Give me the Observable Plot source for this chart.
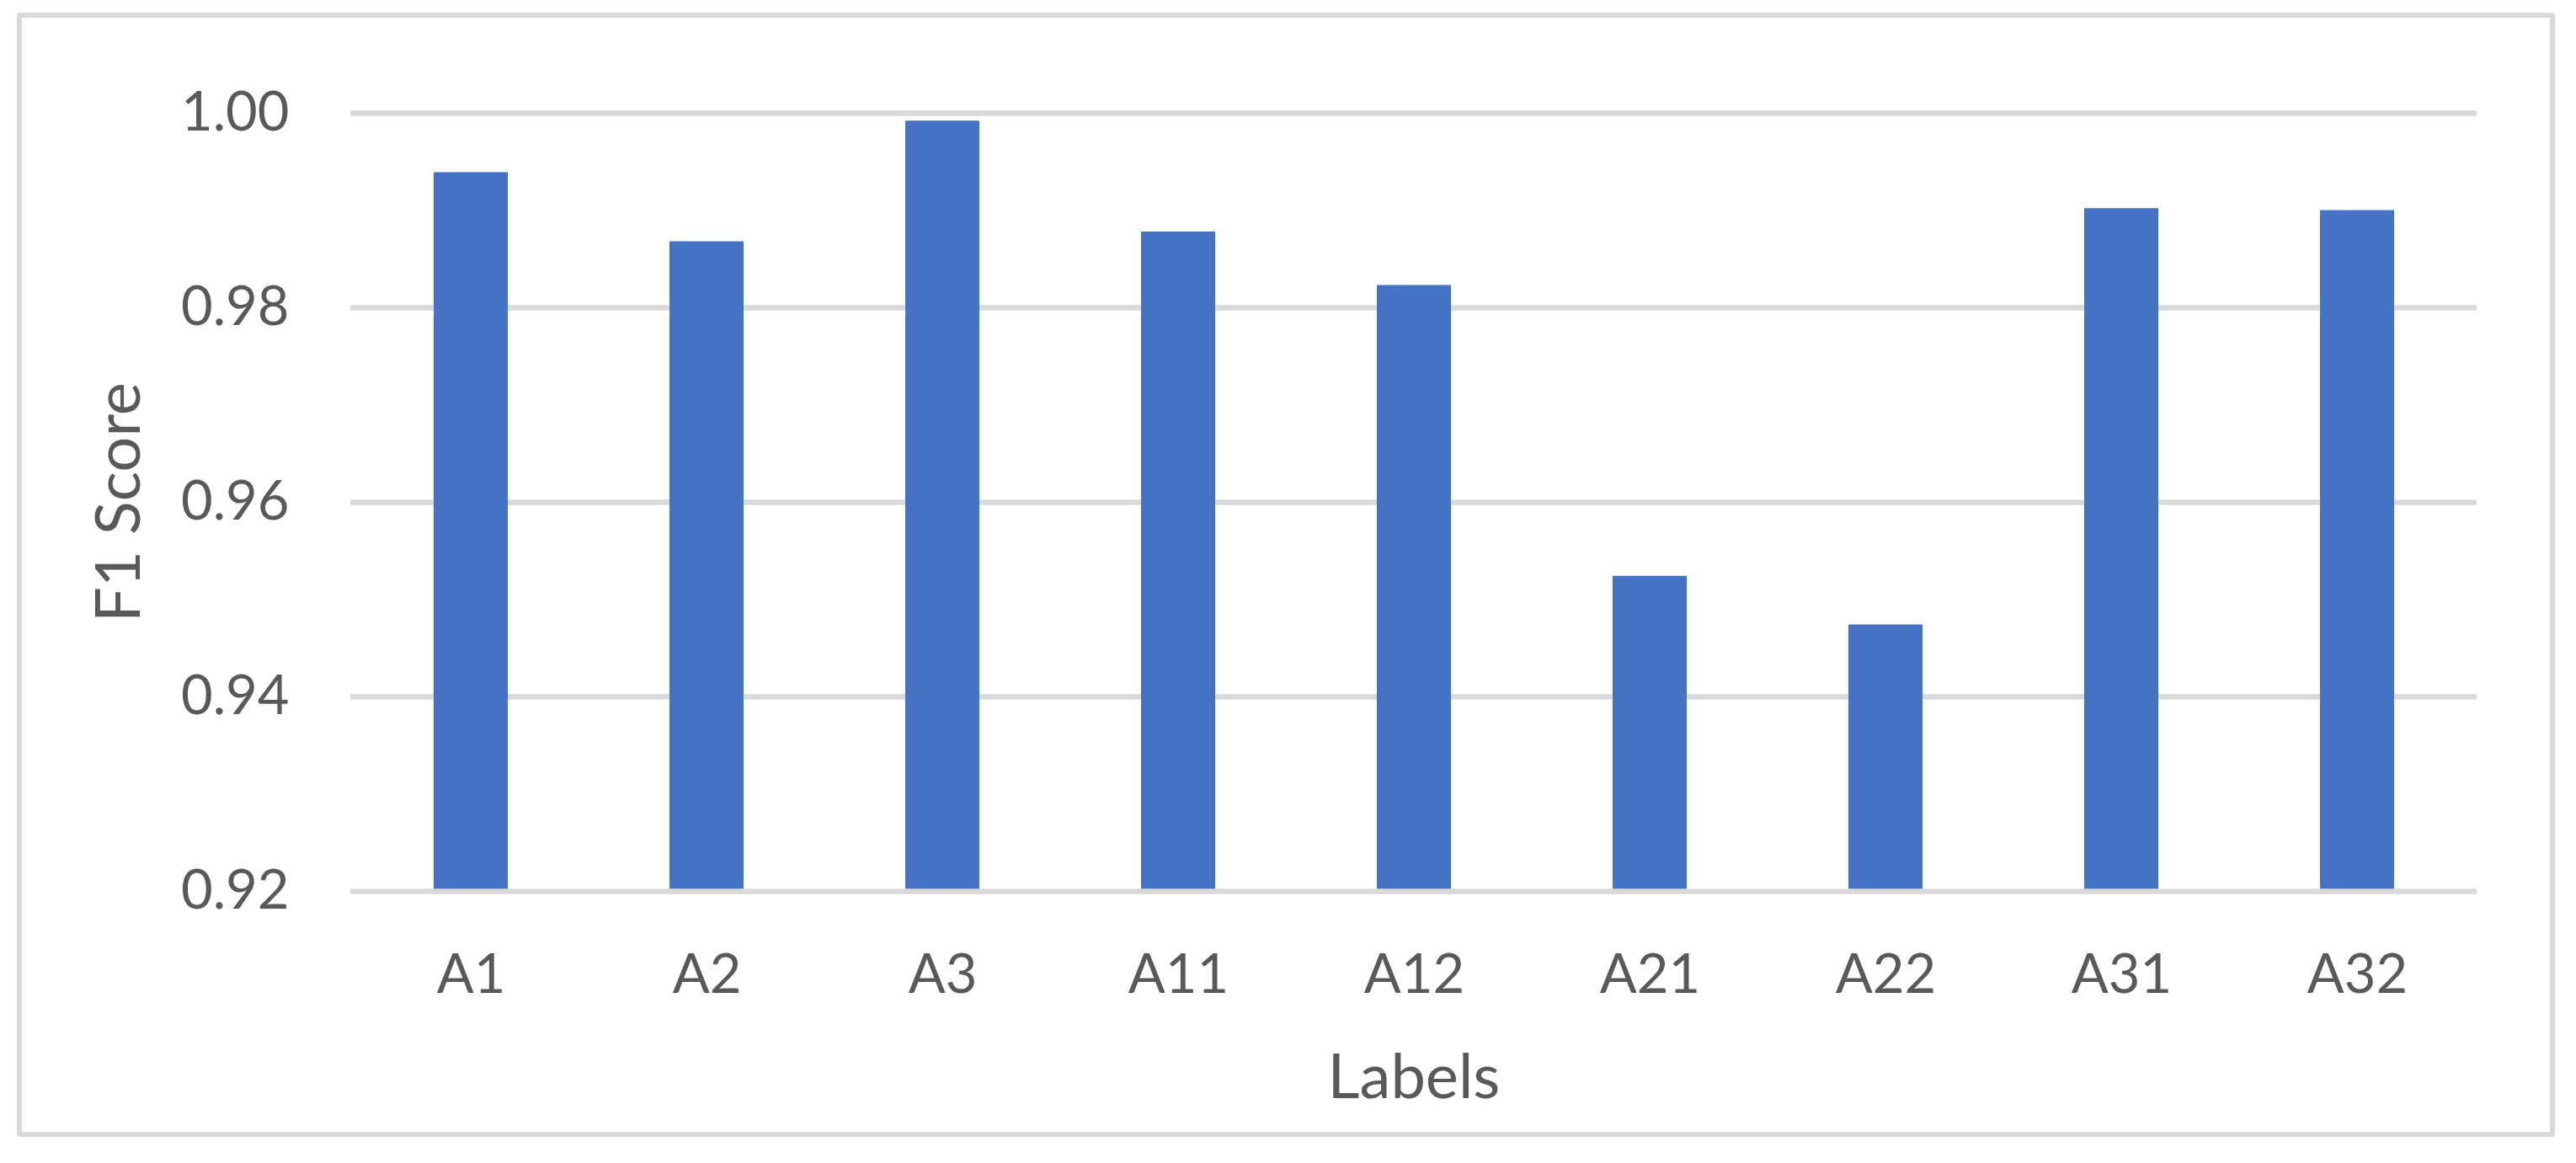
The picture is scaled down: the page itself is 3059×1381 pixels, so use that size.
<!DOCTYPE html>
<html>
<head>
<meta charset="utf-8">
<script src="https://cdn.jsdelivr.net/npm/d3@7"></script>
<script src="https://cdn.jsdelivr.net/npm/@observablehq/plot@0.6"></script>
<style>
  html, body { margin: 0; padding: 0; background: #ffffff; overflow: hidden; }
  #wrap { position: relative; width: 3059px; height: 1381px; }
  #wrap svg { position: absolute; left: 0; top: 0; }
  #frame {
    position: absolute; left: 20px; top: 15px; width: 3014px; height: 1335px;
    box-sizing: border-box; border: 6px solid #d9d9d9; border-radius: 4px;
    pointer-events: none;
  }
</style>
</head>
<body>
<div id="wrap"><div id="frame"></div></div>
<script>
// ---- data ----
const labels = ["A1", "A2", "A3", "A11", "A12", "A21", "A22", "A31", "A32"];
const f1Scores = [0.9939, 0.9868, 0.9992, 0.9878, 0.9823, 0.9524, 0.9474, 0.9902, 0.9900];
const yTicks = [0.92, 0.94, 0.96, 0.98, 1.00];
const yMin = 0.92;
const yMax = 1.00;
const xTitle = "Labels";
const yTitle = "F1 Score";

const data = labels.map((label, i) => ({label, value: f1Scores[i]}));

const textColor = "#595959";
const gridColor = "#d9d9d9";
const barColor = "#4472c4";

const chart = Plot.plot({
  width: 3059,
  height: 1381,
  marginLeft: 416,
  marginRight: 118,
  marginTop: 134,
  marginBottom: 323,
  style: {fontFamily: "Lato, 'Open Sans', sans-serif", background: "transparent", color: textColor},
  x: {type: "band", domain: labels, paddingInner: 0.686, paddingOuter: 0.343},
  y: {domain: [yMin, yMax]},
  marks: [
    Plot.ruleY(yTicks.filter(t => t !== yMin), {stroke: gridColor, strokeWidth: 6.7}),
    Plot.barY(data, {x: "label", y1: () => yMin, y2: "value", fill: barColor}),
    Plot.ruleY([yMin], {stroke: gridColor, strokeWidth: 6.7}),
    Plot.axisY({
      ticks: yTicks, tickFormat: d3.format(".2f"), tickSize: 0, tickPadding: 73,
      fontSize: 65, fill: textColor, label: null
    }),
    Plot.axisY({
      ticks: [], tickSize: 0, label: yTitle, labelAnchor: "center", labelArrow: "none",
      labelOffset: 303, fontSize: 74, fill: textColor
    }),
    Plot.axisX({
      tickSize: 0, tickPadding: 74, fontSize: 65, fill: textColor, label: null
    }),
    Plot.axisX({
      ticks: [], tickSize: 0, label: xTitle, labelAnchor: "center", labelArrow: "none",
      labelOffset: 245, fontSize: 74, fill: textColor
    })
  ]
});

document.getElementById("wrap").prepend(chart);
</script>
</body>
</html>
